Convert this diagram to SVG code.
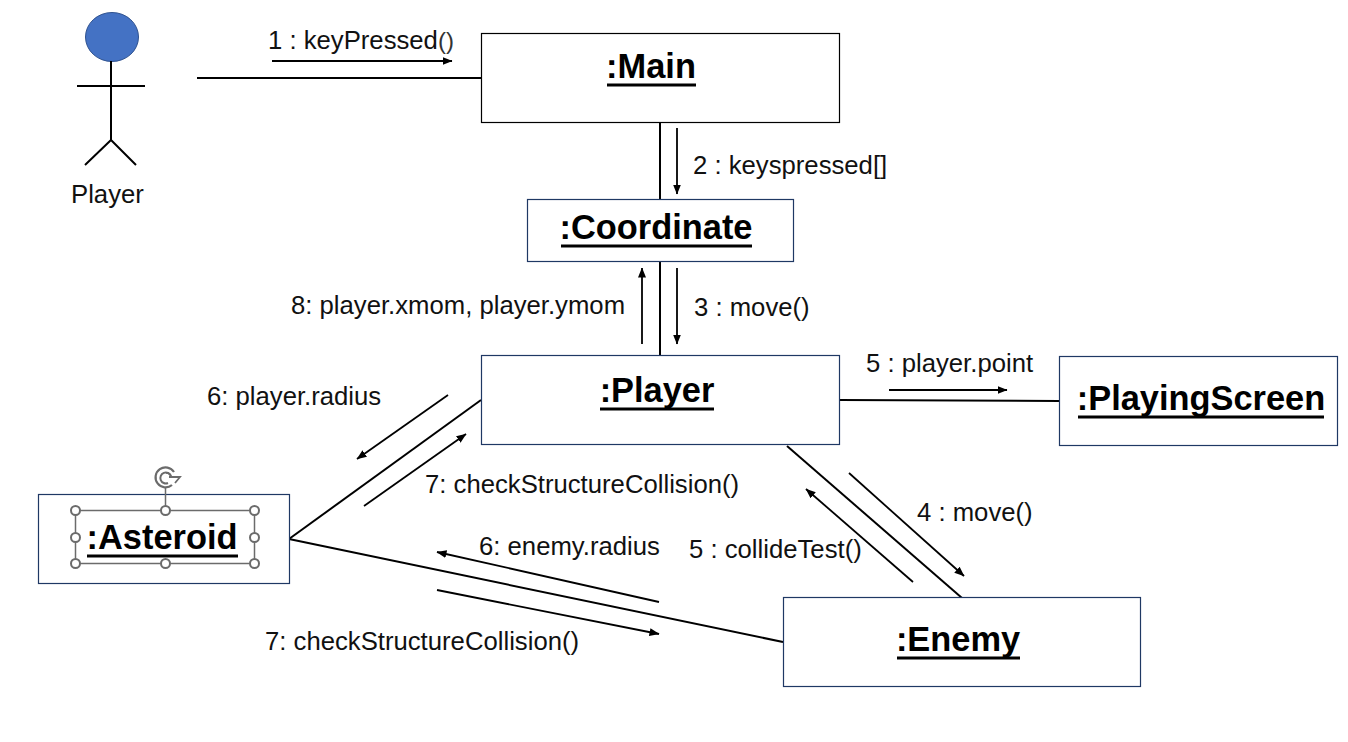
<svg xmlns="http://www.w3.org/2000/svg" width="1348" height="742" viewBox="0 0 1348 742">
<style>
text{font-family:"Liberation Sans",Arial,sans-serif;fill:#111}
.lbl{font-size:25.700px}
.title{font-size:34.400px;font-weight:bold;text-anchor:middle;fill:#000}
.box{fill:#fff;stroke:#1f3864;stroke-width:1.2}
.ul{stroke:#000;stroke-width:3}
.c{stroke:#000;stroke-width:2;fill:none}
.m{stroke:#000;stroke-width:1.8;fill:none;marker-end:url(#a)}
.h{fill:#fff;stroke:#6b6b6b;stroke-width:2}
.s{fill:none;stroke:#6b6b6b;stroke-width:1.5}
</style>
<defs><marker id="a" viewBox="0 0 10 8" refX="9.5" refY="4" markerWidth="10" markerHeight="8" markerUnits="userSpaceOnUse" orient="auto"><path d="M0 0L10 4L0 8Z" fill="#000"/></marker></defs>
<rect width="1348" height="742" fill="#fff"/>
<g id="connectors">
<line class="c" x1="197" y1="78" x2="481" y2="78"/>
<line class="c" x1="660" y1="123" x2="660" y2="199"/>
<line class="c" x1="660" y1="262" x2="660" y2="355"/>
<line class="c" x1="840" y1="400" x2="1059" y2="401"/>
<line class="c" x1="481" y1="400" x2="289" y2="539"/>
<line class="c" x1="289" y1="539" x2="783" y2="642"/>
<line class="c" x1="787" y1="446" x2="962" y2="598"/>
<line class="m" x1="272" y1="61" x2="452" y2="61"/>
<line class="m" x1="677" y1="128" x2="677" y2="194"/>
<line class="m" x1="642" y1="344" x2="642" y2="268"/>
<line class="m" x1="677" y1="268" x2="677" y2="344"/>
<line class="m" x1="889" y1="390" x2="1007" y2="390"/>
<line class="m" x1="448" y1="395" x2="357" y2="459"/>
<line class="m" x1="364" y1="506" x2="466" y2="434"/>
<line class="m" x1="849" y1="473" x2="964" y2="576"/>
<line class="m" x1="913" y1="582" x2="806" y2="489"/>
<line class="m" x1="659" y1="602" x2="437" y2="552"/>
<line class="m" x1="437" y1="590" x2="659" y2="634"/>
</g>
<g id="actor-player">
<ellipse cx="112" cy="37" rx="26.500" ry="24.500" fill="#4472c4" stroke="#2f528f" stroke-width="1"/>
<path class="c" d="M111 61V140M77 86H145M111 140L85 165M111 140L136 165"/>
<text class="lbl" x="71" y="203">Player</text>
</g>
<g id="node-main"><rect class="box" style="stroke:#000" x="481.500" y="33.500" width="358" height="89"/><text class="title" x="651" y="78">:Main</text><line class="ul" x1="607" y1="85" x2="696" y2="85"/></g>
<g id="node-coordinate"><rect class="box" x="527.500" y="199.500" width="266" height="62"/><text class="title" x="656" y="239">:Coordinate</text><line class="ul" x1="561" y1="246" x2="752" y2="246"/></g>
<g id="node-player"><rect class="box" x="481.500" y="355.500" width="358" height="89"/><text class="title" x="657" y="402">:Player</text><line class="ul" x1="600" y1="409" x2="714" y2="409"/></g>
<g id="node-playingscreen"><rect class="box" x="1059.500" y="356.500" width="278" height="89"/><text class="title" x="1201" y="410">:PlayingScreen</text><line class="ul" x1="1078" y1="417" x2="1324" y2="417"/></g>
<g id="node-enemy"><rect class="box" x="783.500" y="597.500" width="357" height="89"/><text class="title" x="958" y="651">:Enemy</text><line class="ul" x1="897" y1="658" x2="1020" y2="658"/></g>
<g id="node-asteroid"><rect class="box" x="38.500" y="494.500" width="251" height="89"/>
<rect class="s" x="75.500" y="510.500" width="179" height="53"/><line class="s" x1="165.500" y1="510" x2="165.500" y2="487"/>
<text class="title" x="162" y="549">:Asteroid</text><line class="ul" x1="87" y1="556" x2="238" y2="556"/>
<g class="h"><circle cx="75.500" cy="510.500" r="4.500"/><circle cx="165.500" cy="510.500" r="4.500"/><circle cx="254.500" cy="510.500" r="4.500"/><circle cx="75.500" cy="537.500" r="4.500"/><circle cx="254.500" cy="537.500" r="4.500"/><circle cx="75.500" cy="563.500" r="4.500"/><circle cx="165.500" cy="563.500" r="4.500"/><circle cx="254.500" cy="563.500" r="4.500"/></g>
<path d="M174 472A10 10 0 1 0 172 485" fill="none" stroke="#6b6b6b" stroke-width="2.200"/><path d="M171 476A5.500 5.500 0 1 0 168 483" fill="none" stroke="#6b6b6b" stroke-width="2"/><path d="M166 473A4.500 4.500 0 0 1 171 477M169 477H180L175 483" fill="none" stroke="#6b6b6b" stroke-width="1.800"/>
</g>
<g id="labels" class="lbl">
<text x="268" y="49">1 : keyPressed<tspan font-size="24" fill="#333">()</tspan></text>
<text x="693" y="174">2 : keyspressed[]</text>
<text x="291" y="314">8: player.xmom, player.ymom</text>
<text x="694" y="316">3 : move()</text>
<text x="866" y="372">5 : player.point</text>
<text x="207" y="405">6: player.radius</text>
<text x="425" y="493">7: checkStructureCollision()</text>
<text x="917" y="521">4 : move()</text>
<text x="689" y="558">5 : collideTest()</text>
<text x="479" y="555">6: enemy.radius</text>
<text x="265" y="650">7: checkStructureCollision()</text>
</g>
</svg>
